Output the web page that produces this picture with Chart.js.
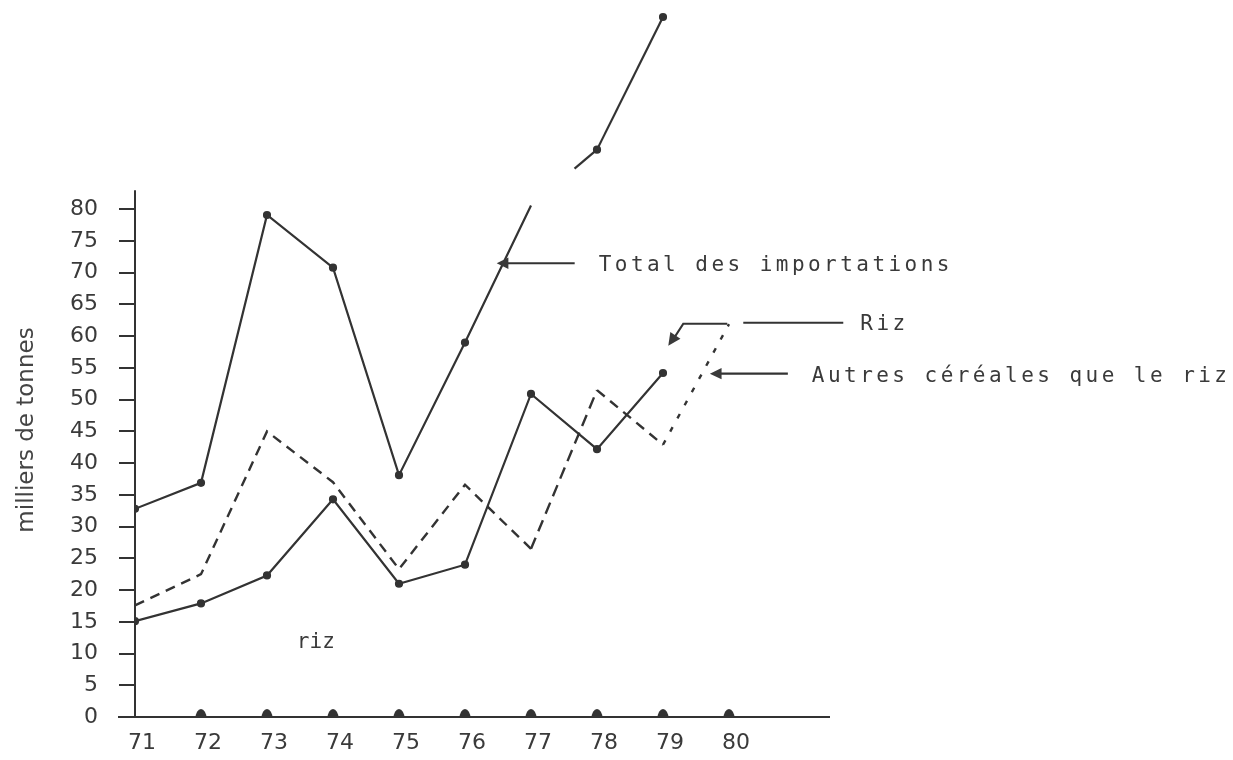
<!DOCTYPE html>
<html>
<head>
<meta charset="utf-8">
<script src="https://cdn.jsdelivr.net/npm/chart.js@4.4.1/dist/chart.umd.min.js"></script>
<style>
  html, body { margin: 0; background: #fff; }
  canvas { display: block; }
</style>
</head>
<body>
<canvas id="chart" width="1233" height="760" style="width:1233px;height:760px"></canvas>
<script>
// years 1971-1980, thousands of tonnes
const years = [71, 72, 73, 74, 75, 76, 77, 78, 79, 80];
const totalImports = [32.8, 36.9, 79.1, 70.8, 38.1, 59.0, 80.6, 89.4, 110.3, null];
const rice = [15.1, 17.9, 22.3, 34.3, 21.0, 24.0, 50.9, 42.2, 54.2, null];
const otherCereals = [17.6, 22.5, 45.0, 37.0, 23.3, 36.6, 26.5, 51.5, 42.9, 61.9];
const yTickMax = 80;
const yTitle = 'milliers de tonnes';

const ink = '#333';
const mono = '"DejaVu Sans Mono", "Liberation Mono", monospace';
const sans = '"DejaVu Sans", sans-serif';

// callouts anchored on the scales: arrow tip (year, value)
const callouts = [
  { text: 'Total des importations', year: 76.48, value: 71.5, kind: 'left' },
  { text: 'Riz', year: 79.08, value: 58.5, kind: 'bent' },
  { text: 'Autres céréales que le riz', year: 79.71, value: 54.1, kind: 'left' },
];

const toPoints = (arr) => years.map((yr, i) => ({ x: yr, y: arr[i] }));

function typeText(ctx, str, x, y, pitch) {
  for (let i = 0; i < str.length; i++) ctx.fillText(str[i], x + i * pitch, y);
}

function arrowHead(ctx, tx, ty, fx, fy, size) {
  const a = Math.atan2(ty - fy, tx - fx);
  ctx.beginPath();
  ctx.moveTo(tx, ty);
  ctx.lineTo(tx - size * Math.cos(a - 0.45), ty - size * Math.sin(a - 0.45));
  ctx.lineTo(tx - size * Math.cos(a + 0.45), ty - size * Math.sin(a + 0.45));
  ctx.closePath();
  ctx.fill();
}

const paperPlugin = {
  id: 'paper',
  afterDraw(chart) {
    const { ctx, scales: { x, y } } = chart;
    const x0 = x.getPixelForValue(71);
    const y0 = y.getPixelForValue(0);
    ctx.save();
    ctx.strokeStyle = ink;
    ctx.fillStyle = ink;
    ctx.lineWidth = 2;

    // axes
    ctx.beginPath();
    ctx.moveTo(x0, y0);
    ctx.lineTo(x0, y.getPixelForValue(83));
    ctx.moveTo(x0 - 17, y0);
    ctx.lineTo(x.right + 2, y0);
    ctx.stroke();

    // little bumps on the year axis
    years.slice(1).forEach((yr) => {
      const px = x.getPixelForValue(yr);
      ctx.beginPath();
      ctx.ellipse(px, y0 + 1, 5.5, 9, 0, Math.PI, 0);
      ctx.fill();
    });

    // y title
    ctx.save();
    ctx.translate(33, 430);
    ctx.rotate(-Math.PI / 2);
    ctx.font = '23px ' + sans;
    ctx.fillStyle = '#444';
    ctx.textAlign = 'center';
    ctx.textBaseline = 'alphabetic';
    ctx.fillText(yTitle, 0, 0);
    ctx.restore();

    // "riz" inside the plot
    ctx.font = '21px ' + mono;
    ctx.fillStyle = '#3a3a3a';
    ctx.textBaseline = 'alphabetic';
    typeText(ctx, 'riz', x.getPixelForValue(73.45), y.getPixelForValue(10.8), 12.8);

    // callouts
    ctx.lineWidth = 2.2;
    callouts.forEach((c) => {
      const tx = x.getPixelForValue(c.year);
      const ty = y.getPixelForValue(c.value);
      if (c.kind === 'left') {
        ctx.beginPath();
        ctx.moveTo(tx + 6, ty);
        ctx.lineTo(tx + 78, ty);
        ctx.stroke();
        arrowHead(ctx, tx, ty, tx + 20, ty, 13);
        typeText(ctx, c.text, tx + 102, ty + 8, 16.1);
      } else {
        const ly = ty - 22;
        ctx.beginPath();
        ctx.moveTo(tx + 4, ty - 5);
        ctx.lineTo(tx + 15, ly);
        ctx.lineTo(tx + 59, ly);
        ctx.moveTo(tx + 75, ly - 1);
        ctx.lineTo(tx + 175, ly - 1);
        ctx.stroke();
        arrowHead(ctx, tx, ty, tx + 15, ly, 14);
        typeText(ctx, c.text, tx + 192, ly + 6, 16.1);
      }
    });
    ctx.restore();
  },
};

new Chart(document.getElementById('chart'), {
  type: 'line',
  data: {
    datasets: [
      {
        label: 'Total des importations',
        data: toPoints(totalImports),
        borderColor: ink,
        backgroundColor: ink,
        borderWidth: 2.2,
        pointRadius: (ctx) => (ctx.dataIndex === 6 ? 0 : 3),
        segment: {
          // the pen lifts between 77 and 78 in the original drawing
          borderDash: (ctx) => (ctx.p0DataIndex === 6 ? [0, 57, 1000] : undefined),
        },
      },
      {
        label: 'Riz',
        data: toPoints(rice),
        borderColor: ink,
        backgroundColor: ink,
        borderWidth: 2.2,
        pointRadius: 3,
      },
      {
        label: 'Autres céréales que le riz',
        data: toPoints(otherCereals),
        borderColor: ink,
        backgroundColor: ink,
        borderWidth: 2.4,
        borderDash: [10, 7],
        pointRadius: 0,
        segment: {
          borderDash: (ctx) => {
            if (ctx.p0DataIndex === 8) return [5, 10];
            if (ctx.p0DataIndex === 6) return [12, 7];
            return undefined;
          },
        },
      },
    ],
  },
  options: {
    responsive: false,
    animation: false,
    events: [],
    layout: { padding: { left: 0, top: 4, right: 405, bottom: 0 } },
    plugins: { legend: { display: false }, tooltip: { enabled: false } },
    elements: { line: { tension: 0 } },
    scales: {
      x: {
        type: 'linear',
        min: 71,
        max: 81.5,
        border: { display: false },
        grid: { display: false },
        afterFit: (s) => { s.height = 43; s.paddingLeft = 0; s.paddingRight = 0; },
        ticks: {
          stepSize: 1,
          padding: 5,
          labelOffset: 7,
          color: '#3a3a3a',
          font: { family: sans, size: 22 },
          callback: (v) => (years.includes(v) ? String(v) : ''),
        },
      },
      y: {
        min: 0,
        max: 112,
        border: { display: false },
        afterFit: (s) => { s.width = 135; s.paddingTop = 0; s.paddingBottom = 0; },
        grid: {
          drawOnChartArea: false,
          drawTicks: true,
          tickLength: 16,
          lineWidth: 2,
          tickColor: (ctx) => (ctx.tick && ctx.tick.value <= yTickMax ? ink : 'rgba(0,0,0,0)'),
          color: 'rgba(0,0,0,0)',
        },
        ticks: {
          stepSize: 5,
          padding: 21,
          color: '#3a3a3a',
          font: { family: sans, size: 22 },
          callback: (v) => (v <= yTickMax ? String(v) : ''),
        },
      },
    },
  },
  plugins: [paperPlugin],
});
</script>
</body>
</html>
